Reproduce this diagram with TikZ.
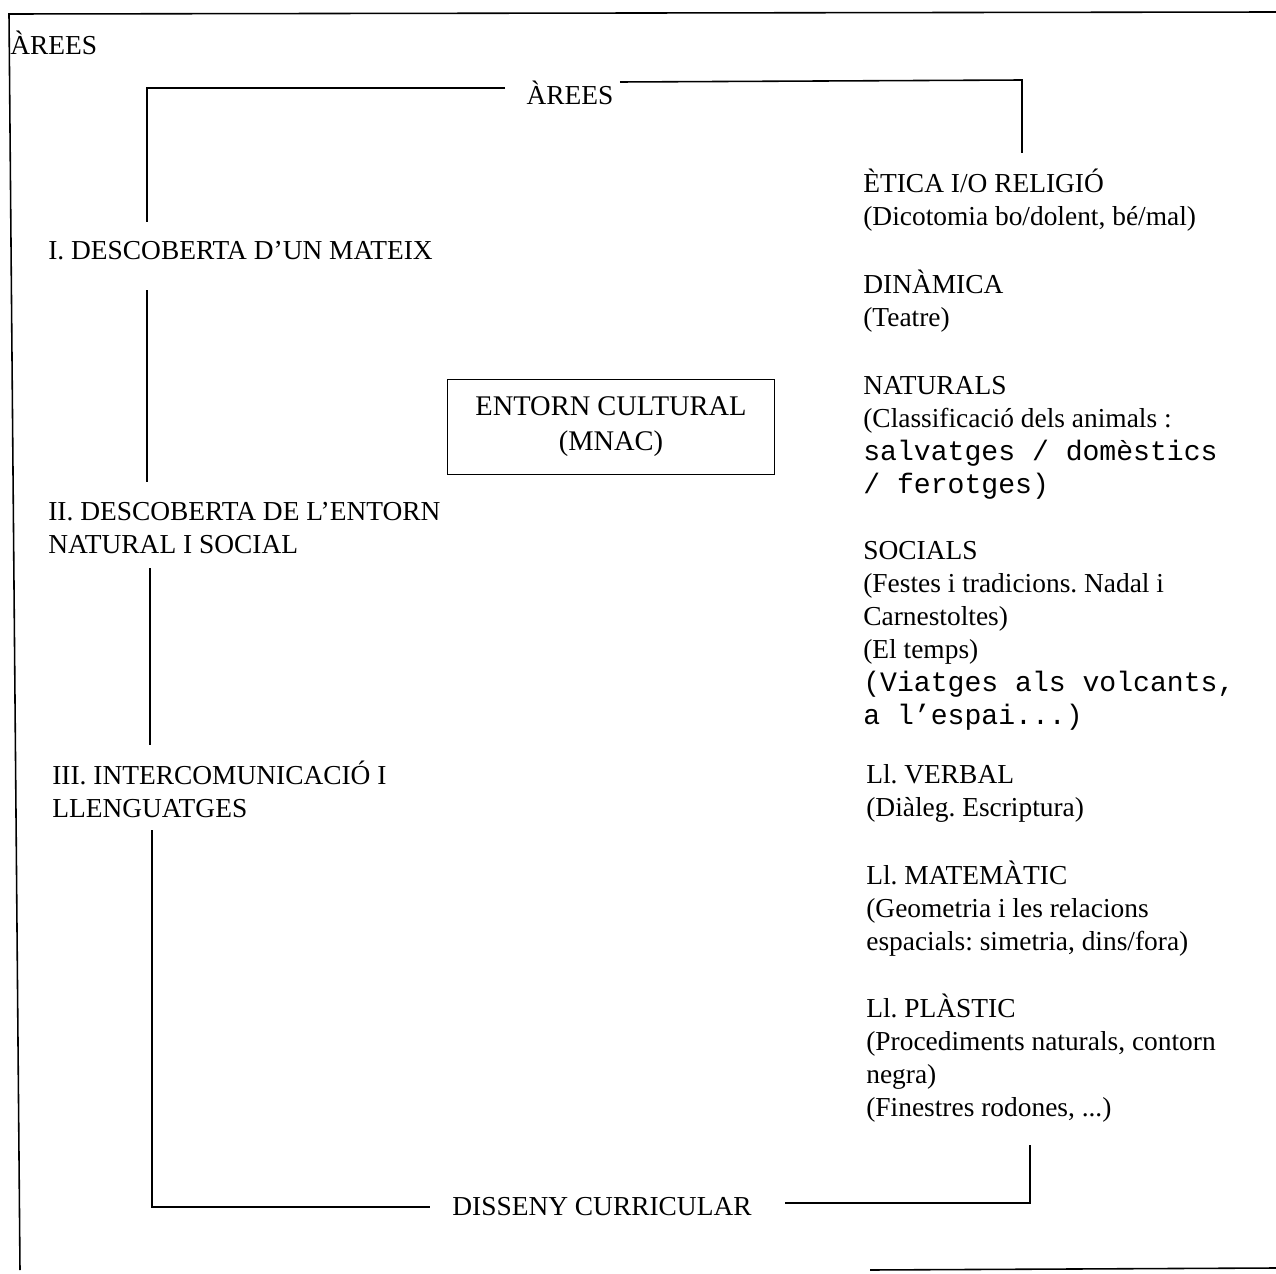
\documentclass[tikz,border=0pt]{standalone}
\usepackage{fontspec}
\setmainfont{Liberation Serif}
\setmonofont{Liberation Mono}
\frenchspacing
\usetikzlibrary{positioning}
\tikzset{
  txt/.style={anchor=base west,inner sep=0pt,align=left,font=\fontsize{15.6}{18.8}\selectfont},
  txtm/.style={anchor=north west,inner sep=0pt,align=left,font=\fontsize{15.6}{18.8}\selectfont,
    execute at begin node=\strut},
  ctxt/.style={inner sep=0pt,font=\fontsize{15.6}{18.8}\selectfont},
  line/.style={line width=0.9pt},
}
\newcommand{\mono}[1]{{\fontsize{16}{18.8}\ttfamily #1}}
\begin{document}
\begin{tikzpicture}[x=0.02cm,y=-0.02cm]
  \useasboundingbox (0,0) rectangle (1276,1274);
  % frame of the page
  \draw[line] (1276,12) -- (9,14) -- (20,1270);
  \draw[line] (870,1270) -- (1276,1268);
  \node[txt] (areesOut) at (10,55) {ÀREES};

  % left column
  \node[ctxt] (areesIn) at (570,93) {ÀREES};
  \node[txt] (desc1) at (48,259) {I. DESCOBERTA D’UN MATEIX};
  \node[txtm] (desc2) at (48,502) {II. DESCOBERTA DE L’ENTORN\\NATURAL I SOCIAL};
  \node[txtm] (desc3) at (52,761) {III. INTERCOMUNICACIÓ I\\LLENGUATGES};
  \node[ctxt] (disseny) at (602,1207) {DISSENY CURRICULAR};

  % centre box
  \node[draw,line,minimum width=6.54cm,minimum height=1.9cm,align=center,
        font=\fontsize{16.2}{19.9}\selectfont] (entorn) at (611,427)
        {ENTORN CULTURAL\\(MNAC)};

  % right column
  \node[txtm] (etica) at (863,169) {ÈTICA I/O RELIGIÓ\\(Dicotomia bo/dolent, bé/mal)};
  \node[txtm] (dinamica) at (863,270) {DINÀMICA\\(Teatre)};
  \node[txtm] (naturals) at (863,376) {NATURALS\\(Classificació dels animals :\\\mono{salvatges / domèstics}\\\mono{/ ferotges)}};
  \node[txtm] (socials) at (863,541) {SOCIALS\\(Festes i tradicions. Nadal i\\Carnestoltes)\\(El temps)\\\mono{(Viatges als volcants,}\\\mono{a l’espai...)}};
  \node[txtm] (verbal) at (866,764) {Ll. VERBAL\\(Diàleg. Escriptura)};
  \node[txtm] (matematic) at (866,861) {Ll. MATEMÀTIC\\(Geometria i les relacions\\espacials: simetria, dins/fora)};
  \node[txtm] (plastic) at (866,994) {Ll. PLÀSTIC\\(Procediments naturals, contorn\\negra)\\(Finestres rodones, ...)};

  % bracket
  \coordinate (tl) at (147,88);
  \coordinate (tle) at (505,88);
  \coordinate (tre) at (620,82);
  \coordinate (tr) at (1022,80);
  \coordinate (trd) at (1022,153);
  \coordinate (bl) at (152,1207);
  \coordinate (ble) at (430,1207);
  \coordinate (bre) at (785,1203);
  \coordinate (br) at (1030,1203);
  \coordinate (bru) at (1030,1145);
  \draw[line] (tle) -- (tl) -- (147,222);
  \draw[line] (tre) -- (tr) -- (trd);
  \draw[line] (147,290) -- (147,482);
  \draw[line] (150,568) -- (150,745);
  \draw[line] (152,830) -- (bl) -- (ble);
  \draw[line] (bre) -- (br) -- (bru);
\end{tikzpicture}
\end{document}
